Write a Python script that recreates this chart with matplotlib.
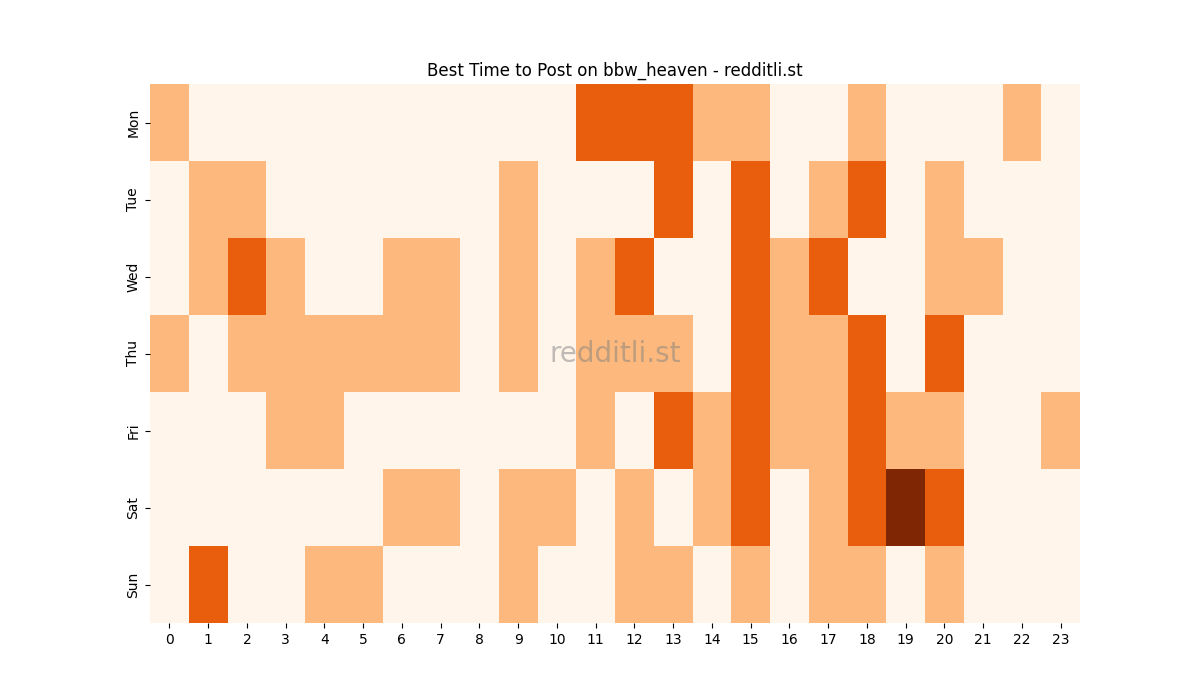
import matplotlib

matplotlib.use("Agg")
import matplotlib.pyplot as plt
import numpy as np

DAYS = ["Mon", "Tue", "Wed", "Thu", "Fri", "Sat", "Sun"]
HOURS = list(range(24))

# activity level per hour (0 = low ... 3 = best)
MON = [1, 0, 0, 0, 0, 0, 0, 0, 0, 0, 0, 2, 2, 2, 1, 1, 0, 0, 1, 0, 0, 0, 1, 0]
TUE = [0, 1, 1, 0, 0, 0, 0, 0, 0, 1, 0, 0, 0, 2, 0, 2, 0, 1, 2, 0, 1, 0, 0, 0]
WED = [0, 1, 2, 1, 0, 0, 1, 1, 0, 1, 0, 1, 2, 0, 0, 2, 1, 2, 0, 0, 1, 1, 0, 0]
THU = [1, 0, 1, 1, 1, 1, 1, 1, 0, 1, 0, 1, 1, 1, 0, 2, 1, 1, 2, 0, 2, 0, 0, 0]
FRI = [0, 0, 0, 1, 1, 0, 0, 0, 0, 0, 0, 1, 0, 2, 1, 2, 1, 1, 2, 1, 1, 0, 0, 1]
SAT = [0, 0, 0, 0, 0, 0, 1, 1, 0, 1, 1, 0, 1, 0, 1, 2, 0, 1, 2, 3, 2, 0, 0, 0]
SUN = [0, 2, 0, 0, 1, 1, 0, 0, 0, 1, 0, 0, 1, 1, 0, 1, 0, 1, 1, 0, 1, 0, 0, 0]

grid = np.array([MON, TUE, WED, THU, FRI, SAT, SUN])

fig, ax = plt.subplots(figsize=(12, 7), dpi=100)
ax.pcolormesh(np.arange(len(HOURS) + 1), np.arange(len(DAYS) + 1), grid,
              cmap="Oranges", vmin=0, vmax=3)
ax.set_xlim(0, len(HOURS))
ax.set_ylim(len(DAYS), 0)
ax.set_xticks(np.arange(len(HOURS)) + 0.5, [str(h) for h in HOURS])
ax.set_yticks(np.arange(len(DAYS)) + 0.5, DAYS, rotation=90, va="center")
for s in ax.spines.values():
    s.set_visible(False)
ax.set_title("Best Time to Post on bbw_heaven - redditli.st", fontsize=12)
ax.text(0.5, 0.5, "redditli.st", transform=ax.transAxes, ha="center", va="center",
        fontsize=20, color="gray", alpha=0.5)
fig.savefig("out.png")
